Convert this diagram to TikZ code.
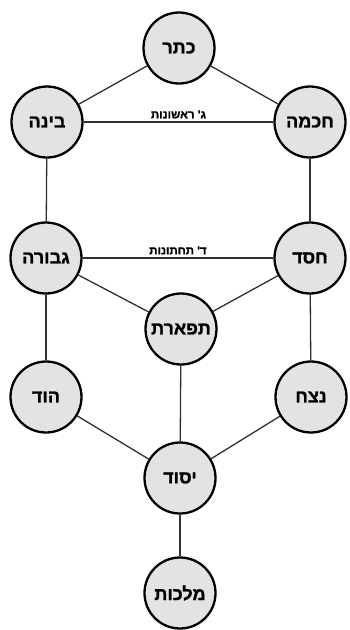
\documentclass[tikz,border=0pt]{standalone}
\usepackage{fontspec}
\TeXXeTstate=1
\newfontfamily\hebfont[Script=Hebrew,FakeBold=1.2]{Liberation Sans Bold}
\definecolor{sfill}{HTML}{E3E3E3}
\definecolor{sline}{HTML}{303030}
\begin{document}
\begin{tikzpicture}[x=1pt,y=-1pt,
  sefira/.style={circle,draw=black,line width=2.3pt,fill=sfill,minimum size=71pt,inner sep=0pt,
    font=\hebfont\fontsize{18}{18}\selectfont},
  conn/.style={draw=sline,line width=1.3pt},
  lbl/.style={font=\hebfont\fontsize{11.5}{11.5}\selectfont,inner sep=1pt}]
\useasboundingbox (0,0) rectangle (349,630);
\node[sefira] (keter) at (179,48) {\beginR כתר\endR};
\node[sefira] (bina) at (47,122) {\beginR בינה\endR};
\node[sefira] (chochma) at (310,122) {\beginR חכמה\endR};
\node[sefira] (gevura) at (46,258) {\beginR גבורה\endR};
\node[sefira] (chesed) at (310,258) {\beginR חסד\endR};
\node[sefira] (tiferet) at (181,329) {\beginR תפארת\endR};
\node[sefira] (hod) at (46,397) {\beginR הוד\endR};
\node[sefira] (netzach) at (311,397) {\beginR נצח\endR};
\node[sefira] (yesod) at (180,478) {\beginR יסוד\endR};
\node[sefira] (malchut) at (180,593) {\beginR מלכות\endR};
\path[conn] (keter) -- (bina);
\path[conn] (keter) -- (chochma);
\path[conn] (bina) -- node[lbl,above=2pt] (l1) {\beginR ג' ראשונות\endR} (chochma);
\path[conn] (bina) -- (gevura);
\path[conn] (chochma) -- (chesed);
\path[conn] (gevura) -- node[lbl,above=2pt] (l2) {\beginR ד' תחתונות\endR} (chesed);
\path[conn] (gevura) -- (tiferet);
\path[conn] (chesed) -- (tiferet);
\path[conn] (gevura) -- (hod);
\path[conn] (chesed) -- (netzach);
\path[conn] (tiferet) -- (yesod);
\path[conn] (hod) -- (yesod);
\path[conn] (netzach) -- (yesod);
\path[conn] (yesod) -- (malchut);
\end{tikzpicture}
\end{document}
